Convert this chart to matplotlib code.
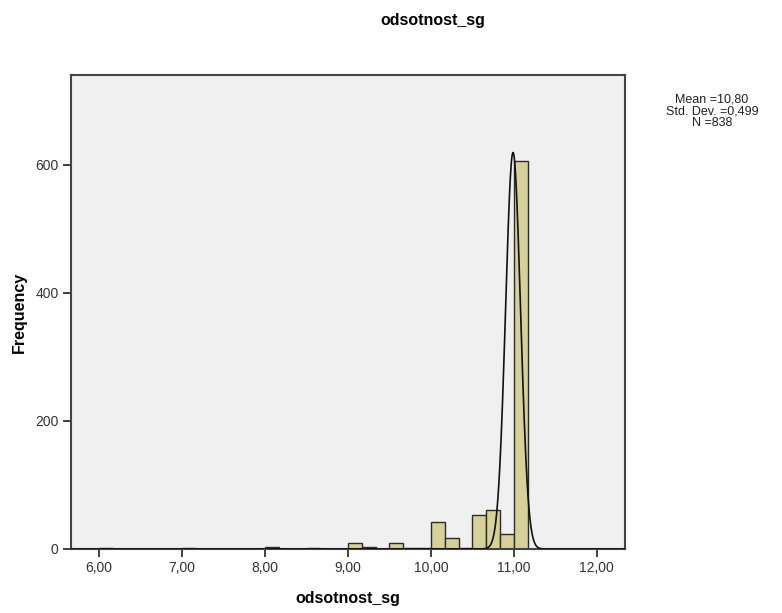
import numpy as np
import matplotlib.pyplot as plt
from matplotlib.ticker import FuncFormatter

# histogram bins (left edges, width 1/6) and counts
bin_width = 1.0 / 6.0
bin_left = [6.0, 7.0, 8.0, 8.5, 9.0, 9.1667, 9.5, 9.6667, 9.8333,
            10.0, 10.1667, 10.3333, 10.5, 10.6667, 10.8333, 11.0]
counts = [1, 2, 3, 2, 9, 3, 9, 2, 2, 42, 17, 2, 53, 61, 24, 606]

# normal curve as drawn in the picture
curve_mean = 10.99
curve_sd = 0.090
n_total = 838

stats_lines = ["Mean =10,80", "Std. Dev. =0,499", "N =838"]
y_ticks = [0, 200, 400, 600]
x_ticks = [6, 7, 8, 9, 10, 11, 12]


def main():
    plt.rcParams['font.family'] = ['Liberation Sans', 'DejaVu Sans']
    fig = plt.figure(figsize=(7.82, 6.13), dpi=100)
    ax = fig.add_axes([71/782, 1-549/613, (625-71)/782, (549-75)/613])
    ax.set_facecolor('#f0f0f0')

    ax.bar(bin_left, counts, width=bin_width, align='edge',
           color='#d6d19b', edgecolor='#2b2b2b', linewidth=1.0, zorder=2)

    x = np.linspace(5.66, 12.34, 1200)
    peak = n_total * bin_width / (curve_sd * np.sqrt(2 * np.pi))
    y = peak * np.exp(-0.5 * ((x - curve_mean) / curve_sd) ** 2)
    ax.plot(x, y, color='#111111', linewidth=1.2, zorder=3)

    ax.set_xlim(5.66, 12.34)
    ax.set_ylim(0, 740)
    ax.set_xticks(x_ticks)
    ax.set_yticks(y_ticks)
    ax.xaxis.set_major_formatter(FuncFormatter(lambda v, p: ('%.2f' % v).replace('.', ',')))
    ax.tick_params(direction='out', length=6, width=1.3, color='#333333',
                   labelsize=10, labelcolor='#333333', pad=3)
    for s in ax.spines.values():
        s.set_color('#444444')
        s.set_linewidth(1.5)

    fig.text(433/782, 1-20/613, 'odsotnost_sg', ha='center', va='center',
             fontsize=11.5, fontweight='bold')
    fig.text(348/782, 1-598/613, 'odsotnost_sg', ha='center', va='center',
             fontsize=11.5, fontweight='bold')
    fig.text(19/782, 1-312/613, 'Frequency', ha='center', va='center',
             rotation=90, fontsize=11.5, fontweight='bold')
    for i, line in enumerate(stats_lines):
        fig.text(712/782, 1-(100+11.5*i)/613, line, ha='center', va='center',
                 fontsize=9, color='#222222')

    fig.savefig('out.png', dpi=100)


if __name__ == "__main__":
    main()
